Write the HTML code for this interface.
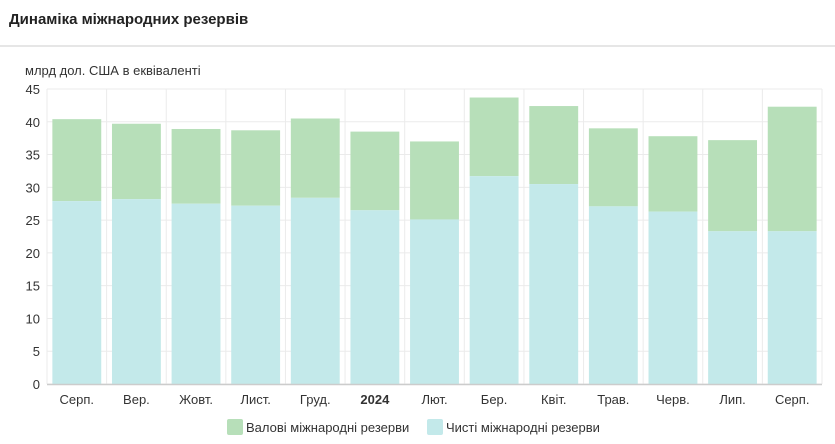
<!DOCTYPE html>
<html><head><meta charset="utf-8">
<style>
body{margin:0;width:835px;height:444px;background:#fff;font-family:"Liberation Sans",sans-serif;overflow:hidden;position:relative}
#title{position:absolute;left:9px;top:11px;font-size:15px;font-weight:bold;color:#222}
#sep{position:absolute;left:0;top:45px;width:835px;height:2px;background:#e6e6e6}
svg{position:absolute;left:0;top:0}
text{font-family:"Liberation Sans Narrow","Liberation Sans",sans-serif}
</style></head><body>
<div id="title">Динаміка міжнародних резервів</div>
<div id="sep"></div>
<svg id="chart" width="835" height="444"></svg>
<script>
const categories=["Серп.","Вер.","Жовт.","Лист.","Груд.","2024","Лют.","Бер.","Квіт.","Трав.","Черв.","Лип.","Серп."];
const grossValues=[40.4,39.7,38.9,38.7,40.5,38.5,37.0,43.7,42.4,39.0,37.8,37.2,42.3];
const netValues=[27.9,28.2,27.5,27.2,28.4,26.5,25.1,31.7,30.5,27.1,26.3,23.3,23.3];
const yTicks=[0,5,10,15,20,25,30,35,40,45];
const NS="http://www.w3.org/2000/svg";
const svg=document.getElementById('chart');
const L=47,R=822,T=89,B=384,ymax=45;
const band=(R-L)/categories.length;
const y=v=>B-(v/ymax)*(B-T);
const x=i=>L+i*band;
function mk(t,a){const e=document.createElementNS(NS,t);for(const k in a)e.setAttribute(k,a[k]);svg.appendChild(e);return e;}
const yl=mk('text',{x:25,y:75,'font-size':13,fill:'#333'});


yl.textContent='млрд дол. США в еквіваленті';
yTicks.forEach(t=>{
  const g=mk('line',{x1:L,x2:R,y1:y(t),y2:y(t),stroke:'#ebebeb','stroke-width':1});
  
  
  const tx=mk('text',{x:40,y:y(t)+5,'font-size':13,fill:'#333','text-anchor':'end'});
  
  
  tx.textContent=t;
});
for(let i=0;i<=categories.length;i++){
  const v=mk('line',{x1:x(i),x2:x(i),y1:T,y2:B,stroke:'#ebebeb','stroke-width':1});
  
  
}
categories.forEach((c,i)=>{
  const bw=band*0.82,bx=x(i)+(band-bw)/2;
  const g=mk('rect',{x:bx,y:y(grossValues[i]),width:bw,height:y(netValues[i])-y(grossValues[i]),fill:'#b7dfb9'});
  
  
  const n=mk('rect',{x:bx,y:y(netValues[i]),width:bw,height:B-y(netValues[i]),fill:'#c3e9ea'});
  
  
  const t=mk('text',{x:x(i)+band/2,y:404,'font-size':13,fill:'#333','text-anchor':'middle','font-weight':c==='2024'?'bold':'normal'});
  
  
  t.textContent=c;
});
const ax=mk('line',{x1:L,x2:R,y1:B+0.5,y2:B+0.5,stroke:'#ccc','stroke-width':1.5});


const leg=[['Валові міжнародні резерви','#b7dfb9',227],['Чисті міжнародні резерви','#c3e9ea',427]];
leg.forEach(l=>{
  const r=mk('rect',{x:l[2],y:419,width:16,height:16,rx:2,fill:l[1]});
  
  
  const t=mk('text',{x:l[2]+19,y:432,'font-size':13,fill:'#333'});
  
  
  t.textContent=l[0];
});
</script>
</body></html>
